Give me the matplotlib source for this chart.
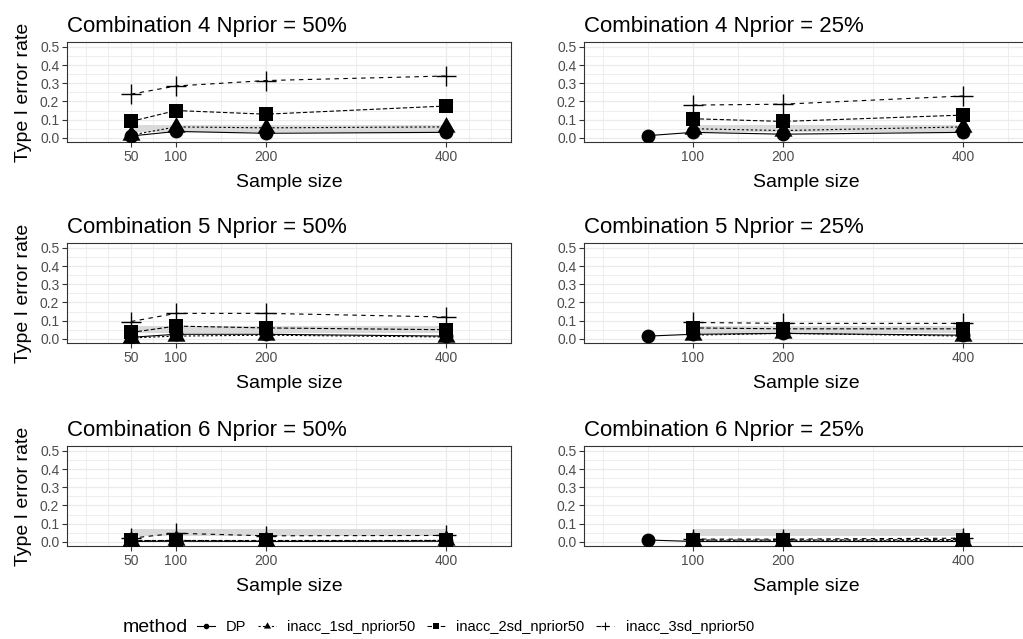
import matplotlib.pyplot as plt
from matplotlib.lines import Line2D
from matplotlib.path import Path

plt.rcParams['font.family'] = ['Liberation Sans', 'DejaVu Sans']

# panel order: comb4 50%, comb4 25%, comb5 50%, comb5 25%, comb6 50%, comb6 25%
titles = ["Combination 4 Nprior = 50%", "Combination 4 Nprior = 25%",
          "Combination 5 Nprior = 50%", "Combination 5 Nprior = 25%",
          "Combination 6 Nprior = 50%", "Combination 6 Nprior = 25%"]
n_full = [50, 100, 200, 400]
n_short = [100, 200, 400]
methods = ["DP", "inacc_1sd_nprior50", "inacc_2sd_nprior50", "inacc_3sd_nprior50"]

dp = [[0.01, 0.035, 0.025, 0.03], [0.012, 0.03, 0.02, 0.03],
      [0.008, 0.025, 0.025, 0.015], [0.015, 0.025, 0.03, 0.02],
      [0.002, 0.003, 0.002, 0.003], [0.01, 0.002, 0.002, 0.002]]
sd1 = [[0.015, 0.06, 0.055, 0.06], [0.05, 0.04, 0.06],
       [0.005, 0.015, 0.02, 0.01], [0.02, 0.03, 0.015],
       [0.005, 0.008, 0.004, 0.008], [0.005, 0.005, 0.007]]
sd2 = [[0.09, 0.15, 0.13, 0.175], [0.105, 0.09, 0.125],
       [0.035, 0.07, 0.06, 0.05], [0.06, 0.055, 0.055],
       [0.01, 0.01, 0.01, 0.01], [0.01, 0.01, 0.012]]
sd3 = [[0.24, 0.285, 0.315, 0.34], [0.18, 0.185, 0.23],
       [0.095, 0.14, 0.14, 0.12], [0.09, 0.085, 0.085],
       [0.02, 0.047, 0.033, 0.035], [0.015, 0.015, 0.02]]
band_lo, band_hi = 0.031, 0.07

W, H = 1023, 639
fig = plt.figure(figsize=(W / 100, H / 100), dpi=100)

col_x = [67, 584]
row_y = [42, 243, 446]
aw, ah = 444, 100

# R-like triangle (centred on centroid)
tri = Path([(0, 1.555), (-1.347, -0.778), (1.347, -0.778), (0, 1.555)],
           [Path.MOVETO, Path.LINETO, Path.LINETO, Path.CLOSEPOLY])
styles = [
    dict(ls='-', marker='o', ms=10),
    dict(ls=(0, (2, 2)), marker=tri, ms=15),
    dict(ls=(0, (4, 2)), marker='s', ms=10),
    dict(ls=(0, (4, 4)), marker='+', ms=15),
]

for i in range(6):
    r, c = divmod(i, 2)
    ax = fig.add_axes([col_x[c] / W, 1 - (row_y[r] + ah) / H, aw / W, ah / H])
    half = (c == 1)
    xs = [n_full, n_short if half else n_full, n_short if half else n_full,
          n_short if half else n_full]
    ys = [dp[i], sd1[i], sd2[i], sd3[i]]

    bx = n_short if half else n_full
    ax.fill_between([bx[0], bx[-1]], band_lo, band_hi, color='#DADADA', lw=0, zorder=1)
    for x, y, st in zip(xs, ys, styles):
        ax.plot(x, y, color='black', lw=0.8, ls=st['ls'], zorder=2)
    for x, y, st in zip(xs, ys, styles):
        ax.plot(x, y, ls='none', marker=st['marker'], ms=st['ms'], color='black',
                mew=1.0 if st['marker'] == '+' else 0, zorder=3)

    ax.set_xlim(-21, 472)
    ax.set_ylim(-0.023, 0.527)
    ax.set_xticks(n_short if half else n_full)
    if half:
        ax.set_xticks([0, 50, 150, 300, 450], minor=True)
    else:
        ax.set_xticks([0, 25, 75, 150, 300, 425, 450], minor=True)
    ax.set_yticks([0, 0.1, 0.2, 0.3, 0.4, 0.5])
    ax.set_yticklabels(['0.0', '0.1', '0.2', '0.3', '0.4', '0.5'])
    ax.set_yticks([0.05, 0.15, 0.25, 0.35, 0.45], minor=True)
    ax.grid(which='major', color='#EBEBEB', lw=0.9, zorder=0)
    ax.grid(which='minor', color='#EBEBEB', lw=0.6, zorder=0)
    ax.set_axisbelow(True)
    ax.tick_params(which='major', length=3.5, width=0.8, color='#333333',
                   labelcolor='#4D4D4D', labelsize=10, pad=2)
    ax.tick_params(which='minor', length=0)
    for s in ax.spines.values():
        s.set_color('#333333')
        s.set_linewidth(0.8)

    ax.set_title(titles[i], loc='left', fontsize=16, pad=7)
    ax.set_xlabel("Sample size", fontsize=14)
    ax.xaxis.set_label_coords(0.5, -0.32)
    if c == 0:
        ax.set_ylabel("Type I error rate", fontsize=14)
        ax.yaxis.set_label_coords(-0.079, 0.5)

# legend
handles = [Line2D([], [], color='black', lw=0.8, ls=st['ls'], marker=st['marker'],
                  ms=st['ms'] * 0.4, mew=0.8 if st['marker'] == '+' else 0)
           for st in styles]
fig.text(123 / W, 1 - 627 / H, "method", fontsize=14, va='center', ha='left')
fig.legend(handles, methods, loc='center left', bbox_to_anchor=(197 / W, 1 - 627 / H),
           ncol=4, frameon=False, fontsize=10.5, handlelength=1.2, handletextpad=0.8,
           columnspacing=0.8, borderpad=0, borderaxespad=0)

fig.savefig('out.png', dpi=100)
